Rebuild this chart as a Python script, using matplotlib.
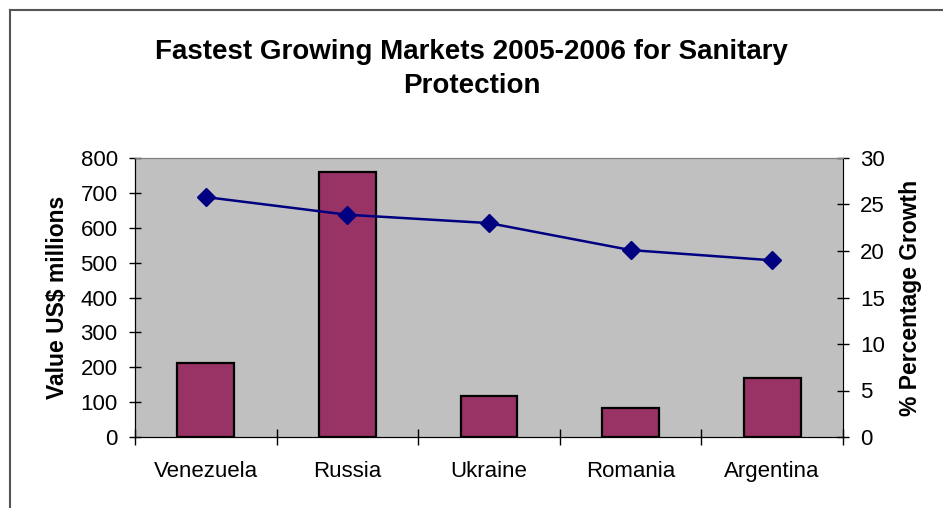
import matplotlib
matplotlib.use("Agg")
import matplotlib.pyplot as plt
from matplotlib.lines import Line2D

plt.rcParams['font.family'] = ['Liberation Sans', 'DejaVu Sans']

countries = ["Venezuela", "Russia", "Ukraine", "Romania", "Argentina"]
value_musd = [213, 759, 118, 82, 169]
growth_pct = [25.8, 23.9, 23.0, 20.1, 19.0]
left_ticks = [0, 100, 200, 300, 400, 500, 600, 700, 800]
right_ticks = [0, 5, 10, 15, 20, 25, 30]

fig = plt.figure(figsize=(9.43, 5.08), dpi=100)
ax = fig.add_axes([135/943, 1-437/508, (843-135)/943, (437-158)/508])
ax.set_facecolor('#C0C0C0')
x = list(range(len(countries)))
ax.bar(x, value_musd, width=0.4, color='#993366', edgecolor='black', linewidth=1.6, zorder=2)
ax.set_xlim(-0.5, len(countries) - 0.5)
ax.set_ylim(0, 800)
ax.set_yticks(left_ticks)
ax.set_xticks(x)
ax.set_xticklabels(countries, fontsize=16)
ax.set_xticks([i + 0.5 for i in range(-1, len(countries))], minor=True)
ax.tick_params(axis='x', which='major', length=0, pad=17)
ax.tick_params(axis='x', which='minor', direction='inout', length=12, width=1)
ax.tick_params(axis='y', direction='inout', length=9, width=1, labelsize=16, pad=8)
ax.set_ylabel('Value US$ millions', fontsize=16.5, fontweight='bold', labelpad=8)
for s in ['top', 'right']:
    ax.spines[s].set_color('#808080')
for s in ['left', 'bottom']:
    ax.spines[s].set_color('black')

ax2 = ax.twinx()
ax2.plot(x, growth_pct, color='#000080', linewidth=1.8, marker='D', markersize=9, zorder=3)
ax2.set_ylim(0, 30)
ax2.set_yticks(right_ticks)
ax2.tick_params(axis='y', direction='inout', length=9, width=1, labelsize=16, pad=8)
ax2.set_ylabel('% Percentage Growth', fontsize=16.5, fontweight='bold', labelpad=10)
ax2.spines['right'].set_color('black')
ax2.spines['top'].set_color('#808080')

fig.text(0.5, 1-69/508, 'Fastest Growing Markets 2005-2006 for Sanitary\nProtection',
         ha='center', va='center', fontsize=20, fontweight='bold', linespacing=1.42)

fig.add_artist(Line2D([10/943, 10/943], [0, 1-10/508], color='#555555', linewidth=1.5))
fig.add_artist(Line2D([10/943, 1], [1-10/508, 1-10/508], color='#555555', linewidth=1.5))

fig.savefig('out.png', dpi=100)
